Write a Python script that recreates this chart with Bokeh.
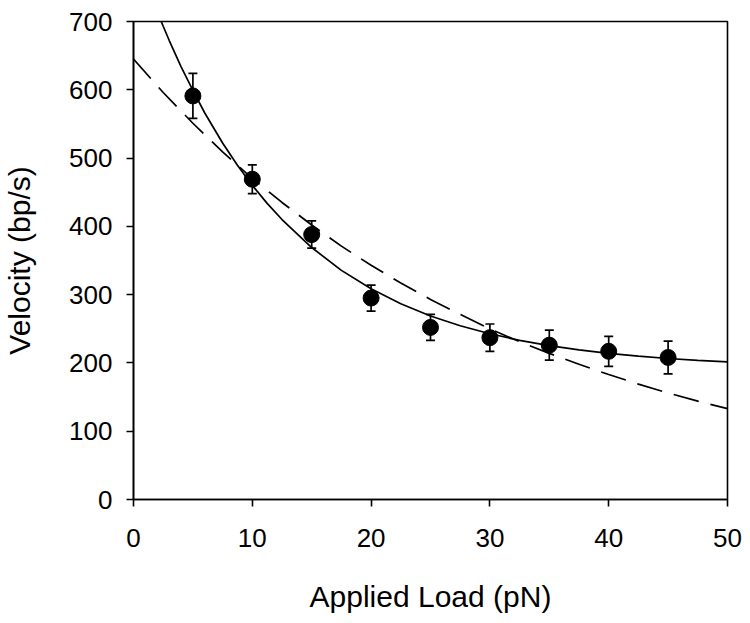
from bokeh.plotting import figure
from bokeh.models import Range1d, FixedTicker, ColumnDataSource, Whisker, TeeHead
from bokeh.embed import file_html
from bokeh.resources import INLINE

# data points (Applied Load, Velocity, error)
load = [5, 10, 15, 20, 25, 30, 35, 40, 45]
velocity = [591, 469, 388, 295, 252, 237, 226, 217, 208]
err = [33, 21, 20, 19, 19, 20, 22, 22, 24]

# solid fit curve
solid_x = [2, 2.5, 3, 4, 5, 6, 7.5, 8.75, 10, 11.25, 12.5, 15, 17.5, 20, 22.5, 25, 27.5, 30, 32.5, 35, 37.5, 40, 42.5, 45, 47.5, 50]
solid_y = [714, 693, 672.5, 634, 599, 566, 522, 489.5, 460, 433.6, 410, 369, 335.5, 308.5, 286.6, 268.8, 254.4, 242.7, 233.1, 225.4, 219.1, 214.0, 209.9, 206.5, 203.8, 201.6]

# dashed fit curve
dash_x = [0, 2.5, 5, 7.5, 10, 12.5, 15, 17.5, 20, 22.5, 25, 27.5, 30, 32.5, 35, 37.5, 40, 42.5, 45, 47.5, 50]
dash_y = [645, 596, 551, 509, 470, 435, 402, 371, 343, 317, 293, 271, 250, 231, 214, 198, 183, 169, 156, 144, 133]

x_ticks = [0, 10, 20, 30, 40, 50]
y_ticks = [0, 100, 200, 300, 400, 500, 600, 700]

FONT = "Liberation Sans"

p = figure(width=742, height=615, output_backend="svg", toolbar_location=None,
           x_range=Range1d(0, 50), y_range=Range1d(0, 700),
           min_border_left=131, min_border_right=15, min_border_top=21, min_border_bottom=111)

p.xgrid.visible = False
p.ygrid.visible = False
p.outline_line_color = "black"
p.outline_line_width = 1.6
p.background_fill_color = "white"
p.border_fill_color = "white"

for ax in (p.xaxis[0], p.yaxis[0]):
    ax.axis_line_width = 1.6
    ax.axis_line_color = "black"
    ax.major_tick_line_width = 1.6
    ax.major_tick_in = 0
    ax.major_tick_out = 7
    ax.minor_tick_line_color = None
    ax.major_label_text_font = FONT
    ax.major_label_text_font_size = "26px"
    ax.major_label_text_color = "black"
    ax.axis_label_text_font = FONT
    ax.axis_label_text_font_size = "30px"
    ax.axis_label_text_font_style = "normal"
    ax.axis_label_text_color = "black"

p.xaxis.ticker = FixedTicker(ticks=x_ticks)
p.yaxis.ticker = FixedTicker(ticks=y_ticks)
p.xaxis.axis_label = "Applied Load (pN)"
p.yaxis.axis_label = "Velocity (bp/s)"
p.xaxis.major_label_standoff = 22
p.yaxis.major_label_standoff = 14
p.xaxis.axis_label_standoff = 30
p.yaxis.axis_label_standoff = 30

p.line(solid_x, solid_y, line_color="black", line_width=1.7)
p.line(dash_x, dash_y, line_color="black", line_width=1.7, line_dash="26 12")

src = ColumnDataSource(data=dict(
    x=load, y=velocity,
    upper=[v + e for v, e in zip(velocity, err)],
    lower=[v - e for v, e in zip(velocity, err)],
))
w = Whisker(source=src, base="x", upper="upper", lower="lower",
            line_color="black", line_width=1.7,
            upper_head=TeeHead(size=9, line_width=1.7, line_color="black"),
            lower_head=TeeHead(size=9, line_width=1.7, line_color="black"))
p.add_layout(w)

p.scatter("x", "y", source=src, size=16, fill_color="black", line_color="black")

open("out.html", "w").write(file_html(p, INLINE))
